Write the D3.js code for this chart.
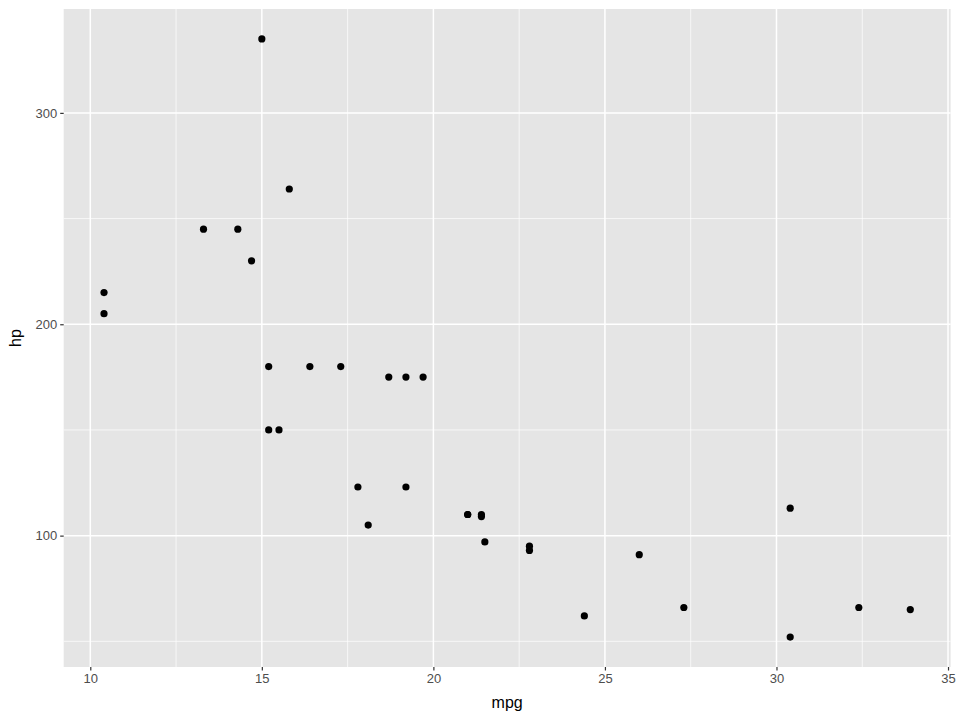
<!DOCTYPE html>
<html><head><meta charset="utf-8">
<script src="https://cdn.jsdelivr.net/npm/d3@7"></script>
<style>body{margin:0;background:#fff}svg{display:block;font-family:"Liberation Sans",Arial,sans-serif}</style>
</head><body>
<script>
const mpg = [21.0,21.0,22.8,21.4,18.7,18.1,14.3,24.4,22.8,19.2,17.8,16.4,17.3,15.2,10.4,10.4,14.7,32.4,30.4,33.9,21.5,15.5,15.2,13.3,19.2,27.3,26.0,30.4,15.8,19.7,15.0,21.4];
const hp = [110,110,93,110,175,105,245,62,95,123,123,180,180,180,205,215,230,66,52,65,97,150,150,245,175,66,91,113,264,175,335,109];
const xTicks = [10,15,20,25,30,35];
const yTicks = [100,200,300];
const xMinor = [12.5,17.5,22.5,27.5,32.5];
const yMinor = [50,150,250];

const W=960,H=720;
const L=63.7,R=950.6,T=9,B=667;
const svg=d3.select("body").append("svg").attr("width",W).attr("height",H);
const xe=d3.extent(mpg), ye=d3.extent(hp);
const xp=(xe[1]-xe[0])*0.05, yp=(ye[1]-ye[0])*0.05;
const x=d3.scaleLinear().domain([xe[0]-xp,xe[1]+xp]).range([L,R]);
const y=d3.scaleLinear().domain([ye[0]-yp,ye[1]+yp]).range([B,T]);

svg.append("rect").attr("x",L).attr("y",T).attr("width",R-L).attr("height",B-T).attr("fill","#e5e5e5");
const g=svg.append("g");
g.selectAll(".xm").data(xMinor).join("line").attr("x1",d=>x(d)).attr("x2",d=>x(d)).attr("y1",T).attr("y2",B).attr("stroke","#fff").attr("stroke-width",0.7);
g.selectAll(".ym").data(yMinor).join("line").attr("y1",d=>y(d)).attr("y2",d=>y(d)).attr("x1",L).attr("x2",R).attr("stroke","#fff").attr("stroke-width",0.7);
g.selectAll(".xM").data(xTicks).join("line").attr("x1",d=>x(d)).attr("x2",d=>x(d)).attr("y1",T).attr("y2",B).attr("stroke","#fff").attr("stroke-width",1.5);
g.selectAll(".yM").data(yTicks).join("line").attr("y1",d=>y(d)).attr("y2",d=>y(d)).attr("x1",L).attr("x2",R).attr("stroke","#fff").attr("stroke-width",1.5);

const xa=svg.append("g").attr("transform",`translate(0,${B})`).call(d3.axisBottom(x).tickValues(xTicks).tickSize(3.5).tickPadding(3));
const ya=svg.append("g").attr("transform",`translate(${L},0)`).call(d3.axisLeft(y).tickValues(yTicks).tickSize(3.5).tickPadding(3));
[xa,ya].forEach(a=>{a.select(".domain").remove();a.selectAll("line").attr("stroke","#333").attr("stroke-width",1.2);
 a.selectAll("text").attr("fill","#4d4d4d").attr("font-size",13).attr("font-family","Liberation Sans, Arial, sans-serif");});

svg.append("g").selectAll("circle").data(mpg.map((m,i)=>[m,hp[i]])).join("circle")
 .attr("cx",d=>x(d[0])).attr("cy",d=>y(d[1])).attr("r",3.6).attr("fill","#000");

svg.append("text").attr("x",(L+R)/2).attr("y",708).attr("text-anchor","middle").attr("font-size",16).text("mpg");
svg.append("text").attr("transform",`translate(21,${(T+B)/2}) rotate(-90)`).attr("text-anchor","middle").attr("font-size",16).text("hp");
</script>
</body></html>
